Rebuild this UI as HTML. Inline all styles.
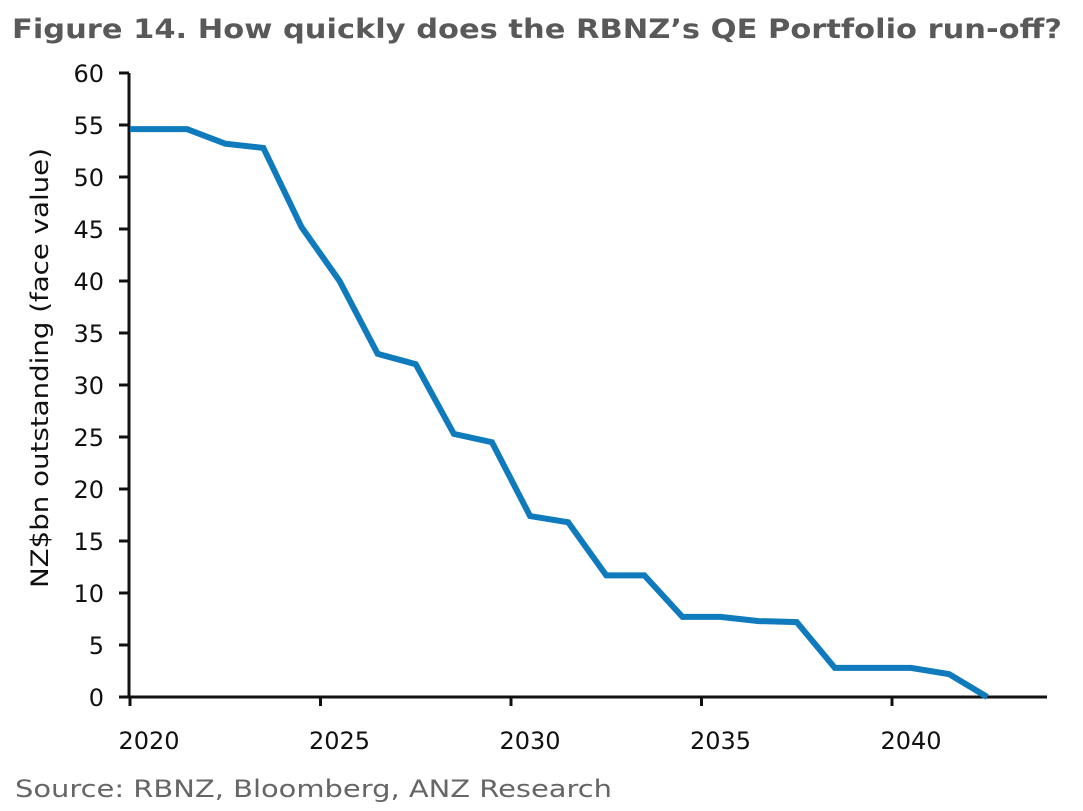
<!DOCTYPE html>
<html><head><meta charset="utf-8"><style>
html,body{margin:0;padding:0;background:#fff;}
svg{display:block;font-family:"DejaVu Sans","Liberation Sans",sans-serif;}
</style></head><body>
<svg id="chart" width="1083" height="811" viewBox="0 0 1083 811">
<text x="12" y="38" font-size="27" font-weight="bold" fill="#595959" textLength="1050" lengthAdjust="spacingAndGlyphs">Figure 14. How quickly does the RBNZ’s QE Portfolio run-off?</text>
<text transform="translate(48,368) rotate(-90)" text-anchor="middle" font-size="24" fill="#111" textLength="440" lengthAdjust="spacingAndGlyphs">NZ$bn outstanding (face value)</text>
<text x="15" y="797" font-size="24" fill="#666" textLength="597" lengthAdjust="spacingAndGlyphs">Source: RBNZ, Bloomberg, ANZ Research</text>
<g id="axes"></g>
<g id="plot"></g>
</svg>
<script>
const years=[2020,2021.5,2022.5,2023.5,2024.5,2025.5,2026.5,2027.5,2028.5,2029.5,2030.5,2031.5,2032.5,2033.5,2034.5,2035.5,2036.5,2037.5,2038.5,2039.5,2040.5,2041.5,2042.5];
const values=[54.6,54.6,53.2,52.8,45.2,40,33,32,25.3,24.5,17.4,16.8,11.7,11.7,7.7,7.7,7.3,7.2,2.8,2.8,2.8,2.2,0];
const yTicks=[0,5,10,15,20,25,30,35,40,45,50,55,60];
const xTicks=[2020,2025,2030,2035,2040];
const NS="http://www.w3.org/2000/svg";
const X0=130,PX_YR=38.1,Y0=697,PX_U=10.4;
function sx(v){return X0+(v-2020)*PX_YR;}
function sy(v){return Y0-v*PX_U;}
function mk(tag,attrs,parent){const e=document.createElementNS(NS,tag);for(const k in attrs)e.setAttribute(k,attrs[k]);parent.appendChild(e);return e;}
const ax=document.getElementById('axes'),pl=document.getElementById('plot');
let l=mk('line',{x1:129,y1:sy(60),x2:129,y2:Y0+1,stroke:'#111','stroke-width':3},ax);


l=mk('line',{x1:119,y1:Y0,x2:1047,y2:Y0,stroke:'#111','stroke-width':3},ax);


yTicks.forEach(v=>{
 const t=mk('line',{x1:119,y1:sy(v),x2:129,y2:sy(v),stroke:'#111','stroke-width':3},ax);
 
 
 const tx=mk('text',{x:104,y:sy(v)+9,'text-anchor':'end','font-size':24,fill:'#111'},ax);
 tx.textContent=v;
 
 
});
xTicks.forEach(v=>{
 const t=mk('line',{x1:sx(v),y1:Y0,x2:sx(v),y2:Y0+9,stroke:'#111','stroke-width':3},ax);
 
 
 const tx=mk('text',{x:sx(v)+19,y:Y0+52,'text-anchor':'middle','font-size':24,fill:'#111'},ax);
 tx.textContent=v;
 
 
});
const pts=years.map((y,i)=>sx(y)+','+sy(values[i])).join(' ');
const line=mk('polyline',{points:pts,fill:'none',stroke:'#0f7bbd','stroke-width':6,'stroke-linejoin':'miter'},pl);


</script>
</body></html>
